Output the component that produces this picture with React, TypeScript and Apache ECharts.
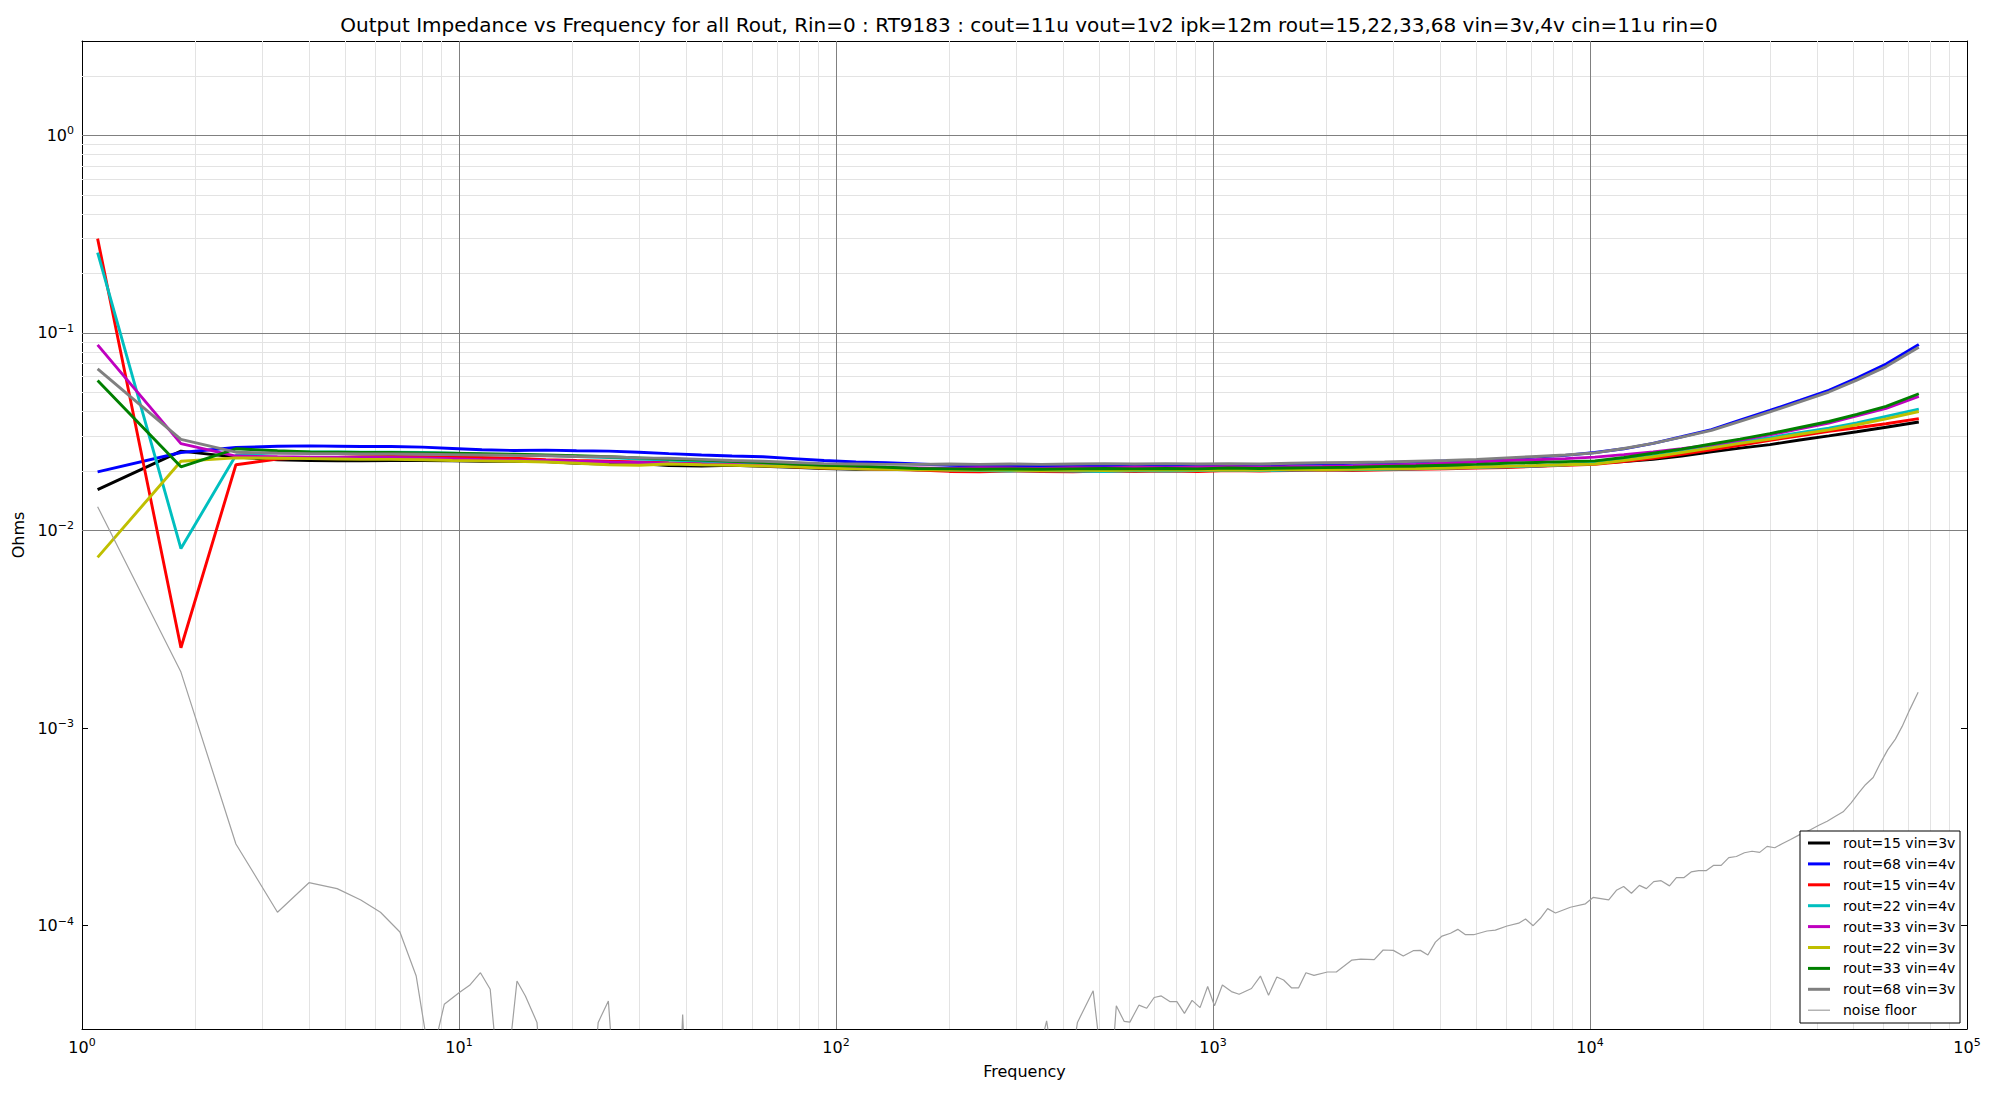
import React, { useEffect, useRef } from 'react';
import * as echarts from 'echarts';

const TITLE =
  'Output Impedance vs Frequency for all Rout, Rin=0 : RT9183 : cout=11u vout=1v2 ipk=12m rout=15,22,33,68 vin=3v,4v cin=11u rin=0';
const X_NAME = 'Frequency';
const Y_NAME = 'Ohms';

// Frequency points (Hz) shared by the eight measured curves
const FREQ = [
  1.1, 1.83, 2.56, 3.3, 4.03, 4.76, 5.5, 6.6, 8, 9.6,
  11.5, 14, 17, 20.5, 25, 30, 36, 44, 53, 64,
  77, 93, 113, 136, 165, 200, 240, 290, 350, 425,
  515, 620, 750, 910, 1100, 1330, 1610, 1950, 2350, 2850,
  3450, 4150, 5000, 6000, 7200, 8600, 10300, 12300, 14700, 17500,
  21000, 25000, 30000, 36000, 43000, 51000, 61000, 74500,
];

const Z_R15_3V = [
  0.0161, 0.0252, 0.0235, 0.0228, 0.0226, 0.0225, 0.0225, 0.0226, 0.0226, 0.0225,
  0.0224, 0.0224, 0.0223, 0.0219, 0.0217, 0.0218, 0.0213, 0.0212, 0.0214, 0.0211,
  0.0209, 0.0206, 0.0204, 0.0205, 0.0203, 0.0204, 0.0202, 0.0203, 0.0202, 0.0203,
  0.0202, 0.0204, 0.0203, 0.0204, 0.0205, 0.0204, 0.0205, 0.0204, 0.0206, 0.0205,
  0.0207, 0.0208, 0.0209, 0.0210, 0.0212, 0.0215, 0.0219, 0.0223, 0.0229, 0.0238,
  0.0250, 0.0261, 0.0272, 0.0287, 0.0301, 0.0316, 0.0333, 0.0354,
];
const Z_R68_4V = [
  0.0198, 0.0248, 0.0263, 0.0267, 0.0268, 0.0267, 0.0266, 0.0266, 0.0264, 0.0260,
  0.0256, 0.0254, 0.0255, 0.0253, 0.0252, 0.0249, 0.0245, 0.0241, 0.0238, 0.0236,
  0.0231, 0.0226, 0.0222, 0.0220, 0.0217, 0.0214, 0.0212, 0.0213, 0.0211, 0.0212,
  0.0213, 0.0212, 0.0213, 0.0214, 0.0213, 0.0214, 0.0216, 0.0217, 0.0219, 0.0220,
  0.0222, 0.0225, 0.0227, 0.0230, 0.0235, 0.0240, 0.0248, 0.0259, 0.0276, 0.0298,
  0.0324, 0.0362, 0.0405, 0.0456, 0.0512, 0.0591, 0.0695, 0.0873,
];
const Z_R15_4V = [
  0.300, 0.00255, 0.0215, 0.0230, 0.0233, 0.0234, 0.0236, 0.0237, 0.0236, 0.0235,
  0.0234, 0.0232, 0.0228, 0.0226, 0.0224, 0.0222, 0.0220, 0.0218, 0.0216, 0.0213,
  0.0210, 0.0207, 0.0206, 0.0204, 0.0202, 0.0199, 0.0198, 0.0200, 0.0199, 0.0198,
  0.0200, 0.0199, 0.0200, 0.0199, 0.0201, 0.0200, 0.0201, 0.0202, 0.0201, 0.0203,
  0.0204, 0.0205, 0.0207, 0.0208, 0.0211, 0.0214, 0.0216, 0.0223, 0.0232, 0.0243,
  0.0256, 0.0270, 0.0286, 0.0301, 0.0318, 0.0331, 0.0347, 0.0368,
];
const Z_R22_4V = [
  0.255, 0.0081, 0.0240, 0.0248, 0.0250, 0.0250, 0.0249, 0.0249, 0.0248, 0.0246,
  0.0243, 0.0241, 0.0240, 0.0237, 0.0234, 0.0230, 0.0227, 0.0224, 0.0221, 0.0218,
  0.0215, 0.0212, 0.0210, 0.0207, 0.0205, 0.0202, 0.0201, 0.0200, 0.0201, 0.0200,
  0.0199, 0.0201, 0.0200, 0.0201, 0.0202, 0.0201, 0.0202, 0.0203, 0.0203, 0.0204,
  0.0205, 0.0207, 0.0208, 0.0210, 0.0212, 0.0215, 0.0219, 0.0228, 0.0239, 0.0251,
  0.0266, 0.0280, 0.0295, 0.0313, 0.0329, 0.0350, 0.0378, 0.0411,
];
const Z_R33_3V = [
  0.087, 0.0275, 0.0238, 0.0236, 0.0235, 0.0235, 0.0234, 0.0234, 0.0233, 0.0231,
  0.0228, 0.0227, 0.0226, 0.0224, 0.0222, 0.0221, 0.0219, 0.0217, 0.0216, 0.0213,
  0.0211, 0.0209, 0.0210, 0.0208, 0.0207, 0.0206, 0.0208, 0.0207, 0.0206, 0.0208,
  0.0207, 0.0209, 0.0208, 0.0209, 0.0210, 0.0209, 0.0210, 0.0211, 0.0212, 0.0214,
  0.0216, 0.0219, 0.0222, 0.0226, 0.0228, 0.0231, 0.0235, 0.0242, 0.0250, 0.0259,
  0.0271, 0.0287, 0.0305, 0.0327, 0.0350, 0.0380, 0.0415, 0.0477,
];
const Z_R22_3V = [
  0.00731, 0.0224, 0.0233, 0.0232, 0.0231, 0.0230, 0.0229, 0.0229, 0.0228, 0.0226,
  0.0225, 0.0224, 0.0222, 0.0219, 0.0215, 0.0214, 0.0217, 0.0215, 0.0214, 0.0212,
  0.0210, 0.0207, 0.0205, 0.0204, 0.0203, 0.0202, 0.0203, 0.0202, 0.0201, 0.0202,
  0.0201, 0.0202, 0.0203, 0.0202, 0.0203, 0.0202, 0.0204, 0.0203, 0.0204, 0.0205,
  0.0206, 0.0207, 0.0209, 0.0211, 0.0213, 0.0215, 0.0217, 0.0226, 0.0236, 0.0248,
  0.0262, 0.0276, 0.0290, 0.0307, 0.0323, 0.0343, 0.0367, 0.0400,
];
const Z_R33_4V = [
  0.0574, 0.0210, 0.0259, 0.0253, 0.0250, 0.0249, 0.0248, 0.0248, 0.0247, 0.0246,
  0.0245, 0.0243, 0.0241, 0.0239, 0.0236, 0.0233, 0.0230, 0.0227, 0.0224, 0.0221,
  0.0217, 0.0214, 0.0212, 0.0209, 0.0206, 0.0205, 0.0204, 0.0205, 0.0204, 0.0205,
  0.0206, 0.0205, 0.0206, 0.0205, 0.0207, 0.0206, 0.0207, 0.0208, 0.0209, 0.0211,
  0.0212, 0.0214, 0.0216, 0.0219, 0.0221, 0.0223, 0.0225, 0.0234, 0.0246, 0.0258,
  0.0274, 0.0290, 0.0309, 0.0332, 0.0356, 0.0387, 0.0425, 0.0492,
];
const Z_R68_3V = [
  0.0658, 0.0289, 0.0249, 0.0246, 0.0245, 0.0245, 0.0244, 0.0244, 0.0243, 0.0242,
  0.0241, 0.0240, 0.0239, 0.0237, 0.0236, 0.0233, 0.0232, 0.0229, 0.0226, 0.0224,
  0.0221, 0.0218, 0.0217, 0.0216, 0.0216, 0.0217, 0.0216, 0.0217, 0.0216, 0.0217,
  0.0218, 0.0217, 0.0218, 0.0217, 0.0218, 0.0217, 0.0219, 0.0220, 0.0221, 0.0222,
  0.0224, 0.0226, 0.0229, 0.0233, 0.0237, 0.0241, 0.0247, 0.0260, 0.0276, 0.0297,
  0.0321, 0.0357, 0.0398, 0.0447, 0.0502, 0.0577, 0.0675, 0.0846,
];

// Noise floor (own frequency points)
const NOISE_FREQ = [
  1.1, 1.83, 2.56, 3.3, 4.0, 4.75, 5.49, 6.19, 6.97, 7.7,
  8.4, 9.14, 10.0, 10.67, 11.4, 12.1, 12.8, 13.5, 14.25, 15.0,
  16.1, 16.8, 20, 22.6, 23.4, 24.9, 25.7, 30, 38.5, 39.2,
  40, 55, 80, 120, 180, 260, 340, 362, 380, 420,
  437, 481, 510, 540, 554, 581, 602, 636, 667, 698,
  729, 768, 802, 840, 880, 924, 968, 1009, 1059, 1119,
  1173, 1265, 1336, 1404, 1477, 1539, 1617, 1686, 1764, 1853,
  2011, 2124, 2336, 2466, 2677, 2827, 3008, 3197, 3397, 3548,
  3715, 3890, 4052, 4266, 4460, 4674, 4915, 5330, 5610, 6026,
  6470, 6745, 7066, 7387, 7721, 8097, 8872, 9724, 10190, 11210,
  11750, 12280, 12880, 13520, 14110, 14760, 15440, 16250, 16950, 17730,
  18550, 19420, 20360, 21290, 22280, 23340, 24450, 25680, 26910, 28190,
  29500, 30910, 32330, 34040, 36000, 38440, 40460, 42580, 44780, 46930,
  49280, 51620, 53790, 56380, 58920, 61610, 64580, 67300, 70500, 74200,
];
const NOISE_Z = [
  1.32e-2, 1.92e-3, 2.59e-4, 1.17e-4, 1.65e-4, 1.54e-4, 1.35e-4, 1.17e-4, 9.29e-5, 5.56e-5,
  2.0e-5, 4.0e-5, 4.58e-5, 4.99e-5, 5.78e-5, 4.77e-5, 1.5e-5, 2.0e-5, 5.25e-5, 4.41e-5,
  3.24e-5, 1.2e-5, 1.4e-5, 1.5e-5, 3.24e-5, 4.16e-5, 1.8e-5, 1.4e-5, 1.6e-5, 3.55e-5,
  1.5e-5, 1.2e-5, 1.4e-5, 1.1e-5, 1.3e-5, 1.5e-5, 2.0e-5, 3.3e-5, 1.8e-5, 2.0e-5,
  3.24e-5, 4.68e-5, 1.8e-5, 2.0e-5, 3.93e-5, 3.28e-5, 3.25e-5, 3.96e-5, 3.82e-5, 4.33e-5,
  4.41e-5, 4.13e-5, 4.13e-5, 3.6e-5, 4.19e-5, 3.85e-5, 4.92e-5, 3.93e-5, 5.01e-5, 4.64e-5,
  4.5e-5, 4.81e-5, 5.56e-5, 4.45e-5, 5.5e-5, 5.31e-5, 4.84e-5, 4.84e-5, 5.78e-5, 5.6e-5,
  5.83e-5, 5.83e-5, 6.7e-5, 6.77e-5, 6.74e-5, 7.53e-5, 7.5e-5, 7.02e-5, 7.47e-5, 7.5e-5,
  7.1e-5, 8.26e-5, 8.86e-5, 9.15e-5, 9.58e-5, 9.0e-5, 9.0e-5, 9.4e-5, 9.5e-5, 9.96e-5,
  1.03e-4, 1.08e-4, 1.0e-4, 1.09e-4, 1.22e-4, 1.16e-4, 1.24e-4, 1.29e-4, 1.39e-4, 1.35e-4,
  1.51e-4, 1.58e-4, 1.46e-4, 1.6e-4, 1.54e-4, 1.67e-4, 1.69e-4, 1.59e-4, 1.75e-4, 1.75e-4,
  1.87e-4, 1.9e-4, 1.9e-4, 2.02e-4, 2.02e-4, 2.21e-4, 2.24e-4, 2.34e-4, 2.38e-4, 2.35e-4,
  2.52e-4, 2.48e-4, 2.6e-4, 2.73e-4, 2.89e-4, 3.06e-4, 3.22e-4, 3.38e-4, 3.58e-4, 3.77e-4,
  4.18e-4, 4.7e-4, 5.17e-4, 5.62e-4, 6.65e-4, 7.76e-4, 8.79e-4, 1.02e-3, 1.24e-3, 1.52e-3,
];

const SERIES_NAMES = [
  'rout=15 vin=3v', 'rout=68 vin=4v', 'rout=15 vin=4v', 'rout=22 vin=4v',
  'rout=33 vin=3v', 'rout=22 vin=3v', 'rout=33 vin=4v', 'rout=68 vin=3v',
];
const SERIES_VALUES = [Z_R15_3V, Z_R68_4V, Z_R15_4V, Z_R22_4V, Z_R33_3V, Z_R22_3V, Z_R33_4V, Z_R68_3V];
const SERIES_COLORS = ['#000000', '#0000ff', '#ff0000', '#00bfbf', '#bf00bf', '#bfbf00', '#008000', '#808080'];
const NOISE_NAME = 'noise floor';
const NOISE_COLOR = '#a0a0a0';

const X_MIN = 1;
const X_MAX = 1e5;
const Y_MIN = 3e-5;
const Y_MAX = 3;

const FONT = '"DejaVu Sans", "Liberation Sans", sans-serif';

function decadeLabel(v: number): string {
  const lg = Math.log10(v);
  const e = Math.round(lg);
  if (Math.abs(lg - e) > 1e-6) return '';
  const es = e < 0 ? '\u2212' + Math.abs(e) : String(e);
  return '{b|10}{s|' + es + '}';
}

const richLabel = {
  b: { fontSize: 16, fontFamily: FONT, color: '#000', lineHeight: 20 },
  s: { fontSize: 11, fontFamily: FONT, color: '#000', lineHeight: 12, verticalAlign: 'top' },
};

function gridValues(lo: number, hi: number, major: boolean): number[] {
  const out: number[] = [];
  for (let d = -6; d <= 6; d++) {
    const ks = major ? [1] : [2, 3, 4, 5, 6, 7, 8, 9];
    for (const k of ks) {
      const v = Number((k * Math.pow(10, d)).toPrecision(6));
      if (v > lo * 1.0000001 && v < hi / 1.0000001) out.push(v);
    }
  }
  return out;
}

export default function App() {
  const ref = useRef<HTMLDivElement>(null);

  useEffect(() => {
    if (!ref.current) return;
    const chart = echarts.init(ref.current, null, { renderer: 'svg' });

    const minorX = gridValues(X_MIN, X_MAX, false);
    const minorY = gridValues(Y_MIN, Y_MAX, false);
    const majorX = gridValues(X_MIN, X_MAX, true);
    const majorY = gridValues(Y_MIN, Y_MAX, true);

    const gridSeries = (vals: { x: number[]; y: number[] }, color: string, z: number, name: string) => ({
      type: 'line',
      name,
      data: [[10, 0.01]],
      symbol: 'none',
      showSymbol: false,
      lineStyle: { opacity: 0 },
      silent: true,
      z,
      markLine: {
        silent: true,
        z,
        symbol: ['none', 'none'],
        label: { show: false },
        emphasis: { disabled: true },
        lineStyle: { type: 'solid', color, width: 1 },
        data: [
          ...vals.x.map((v) => ({ xAxis: v })),
          ...vals.y.map((v) => ({ yAxis: v })),
        ],
      },
    });

    const dataSeries = SERIES_NAMES.map((name, i) => ({
      type: 'line',
      name,
      data: FREQ.map((f, j) => [f, SERIES_VALUES[i][j]]),
      symbol: 'none',
      showSymbol: false,
      clip: true,
      silent: true,
      z: 3,
      lineStyle: { color: SERIES_COLORS[i], width: 2.9 },
      itemStyle: { color: SERIES_COLORS[i] },
    }));

    const noiseSeries = {
      type: 'line',
      name: NOISE_NAME,
      data: NOISE_FREQ.map((f, j) => [f, NOISE_Z[j]]),
      symbol: 'none',
      showSymbol: false,
      clip: true,
      silent: true,
      z: 3,
      lineStyle: { color: NOISE_COLOR, width: 1.2 },
      itemStyle: { color: NOISE_COLOR },
    };

    // Legend drawn as graphic elements, built from series names/colors
    const legendNames = [...SERIES_NAMES, NOISE_NAME];
    const legendColors = [...SERIES_COLORS, NOISE_COLOR];
    const LX = 1800;
    const LY = 831;
    const ROW = 20.9;
    const legendGraphic: any[] = [
      {
        type: 'rect',
        shape: { x: LX, y: LY, width: 160, height: 192 },
        style: { fill: '#ffffff', stroke: '#000000', lineWidth: 1 },
        z: 100,
      },
    ];
    legendNames.forEach((name, i) => {
      const cy = LY + 12 + ROW * i;
      legendGraphic.push({
        type: 'line',
        shape: { x1: LX + 8, y1: cy, x2: LX + 30, y2: cy },
        style: { stroke: legendColors[i], lineWidth: i < SERIES_NAMES.length ? 3 : 1.2 },
        z: 101,
      });
      legendGraphic.push({
        type: 'text',
        x: LX + 43,
        y: cy,
        style: {
          text: name,
          fill: '#000',
          fontSize: 14,
          fontFamily: FONT,
          align: 'left',
          verticalAlign: 'middle',
        },
        z: 101,
      });
    });

    const baseAxisLine = { show: true, onZero: false, lineStyle: { color: '#000', width: 1 } };
    const baseTick = { show: true, inside: true, length: 6, lineStyle: { color: '#000', width: 1 } };

    const option: any = {
      animation: false,
      backgroundColor: '#ffffff',
      textStyle: { fontFamily: FONT },
      title: {
        text: TITLE,
        left: 1024,
        top: 10,
        textAlign: 'center',
        textStyle: { fontSize: 20, fontWeight: 'normal', color: '#000', fontFamily: FONT },
      },
      grid: { left: 82, right: 33, top: 41, bottom: 71, containLabel: false, outerBoundsMode: 'none' },
      xAxis: [
        {
          type: 'log',
          logBase: 10,
          min: X_MIN,
          max: X_MAX,
          position: 'bottom',
          name: X_NAME,
          nameLocation: 'middle',
          nameGap: 34,
          nameTextStyle: { fontSize: 16, color: '#000', fontFamily: FONT },
          axisLine: baseAxisLine,
          axisTick: baseTick,
          axisLabel: { formatter: decadeLabel, rich: richLabel, margin: 8, color: '#000' },
          splitLine: { show: false },
        },
        {
          type: 'log',
          logBase: 10,
          min: X_MIN,
          max: X_MAX,
          position: 'top',
          axisLine: baseAxisLine,
          axisTick: baseTick,
          axisLabel: { show: false },
          splitLine: { show: false },
        },
      ],
      yAxis: [
        {
          type: 'log',
          logBase: 10,
          min: Y_MIN,
          max: Y_MAX,
          position: 'left',
          name: Y_NAME,
          nameLocation: 'middle',
          nameRotate: 90,
          nameGap: 50,
          nameTextStyle: { fontSize: 16, color: '#000', fontFamily: FONT },
          axisLine: baseAxisLine,
          axisTick: baseTick,
          axisLabel: { formatter: decadeLabel, rich: richLabel, margin: 8, color: '#000' },
          splitLine: { show: false },
        },
        {
          type: 'log',
          logBase: 10,
          min: Y_MIN,
          max: Y_MAX,
          position: 'right',
          axisLine: baseAxisLine,
          axisTick: baseTick,
          axisLabel: { show: false },
          splitLine: { show: false },
        },
      ],
      series: [
        gridSeries({ x: minorX, y: minorY }, '#e3e3e3', 1, 'minor-grid'),
        gridSeries({ x: majorX, y: majorY }, '#808080', 1, 'major-grid'),
        ...dataSeries,
        noiseSeries,
      ],
      graphic: legendGraphic,
    };

    chart.setOption(option);
    return () => chart.dispose();
  }, []);

  return (
    <div
      ref={ref}
      style={{ position: 'fixed', left: 0, top: 0, width: 2000, height: 1100, background: '#ffffff' }}
    />
  );
}
